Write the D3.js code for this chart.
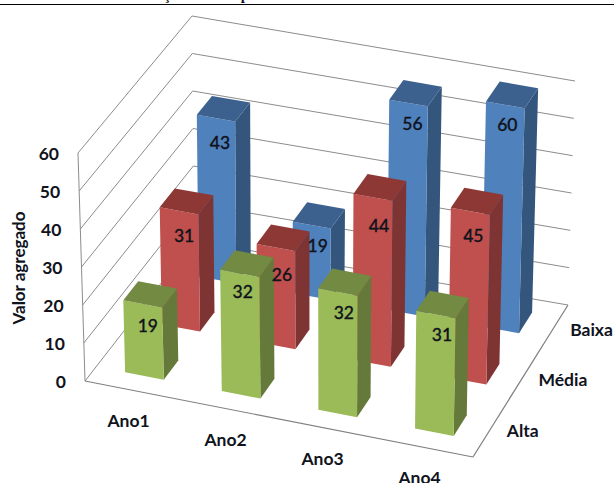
<!DOCTYPE html>
<html>
<head>
<meta charset="utf-8">
<script src="https://cdn.jsdelivr.net/npm/d3@7/dist/d3.min.js"></script>
<style>
html, body { margin: 0; padding: 0; background: #fff; }
svg { display: block; }
text { font-family: Lato, sans-serif; fill: #10131c; }
</style>
</head>
<body>
<svg id="chart" width="614" height="483"></svg>
<script>
// Chart data
const categories = ["Ano1", "Ano2", "Ano3", "Ano4"];
const seriesNames = ["Alta", "Média", "Baixa"];
const alta = [19, 32, 32, 31];
const media = [31, 26, 44, 45];
const baixa = [43, 19, 56, 60];
const yTicks = [0, 10, 20, 30, 40, 50, 60];
const faceColors = {
  Alta: { front: "#9bbb59", side: "#657a3a", top: "#728a42" },
  "Média": { front: "#c0504d", side: "#7d3432", top: "#8e3836" },
  Baixa: { front: "#4f81bd", side: "#34557c", top: "#3c618e" }
};
// Hand placement of the value labels relative to each bar top
const labelNudge = {
  Alta: [[0, 4], [-2, 0], [1, 3], [1, 2]],
  "Média": [[0, 7], [1, 9], [1, 10], [-2, 6]],
  Baixa: [[-1, 6], [1, 2], [-1, 3], [-3, 2]]
};

const svg = d3.select("#chart");

// Scales in normalised box coordinates
const xBand = d3.scaleBand().domain(categories).range([0, 1]).paddingInner(0.6).paddingOuter(0.3);
const zBand = d3.scaleBand().domain(seriesNames).range([0, 1.02]).paddingInner(0.6).paddingOuter(0.3);
const zMid = d3.scaleBand().domain(seriesNames).range([0, 1]).paddingInner(0.6).paddingOuter(0.3);
const yScale = d3.scaleLinear().domain([0, 60]).range([0, 1]);

// Corners of the plot box on screen
const box = {
  floor: { fl: [85, 381], fr: [473, 457], bl: [194, 241], br: [568, 305] },
  ceil:  { fl: [78, 153], fr: [477, 229], bl: [192, 16],  br: [575, 81] }
};
const mix = (a, b, t) => [a[0] + (b[0] - a[0]) * t, a[1] + (b[1] - a[1]) * t];
const plane = (p, u, v) => mix(mix(p.fl, p.fr, u), mix(p.bl, p.br, u), v);
const project = (u, v, value) => mix(plane(box.floor, u, v), plane(box.ceil, u, v), yScale(value));

const poly = d3.line();
const strokeSeg = (g, a, b, color, w) => g.append("path")
  .attr("d", poly([a, b])).attr("fill", "none").attr("stroke", color).attr("stroke-width", w);

// Rule along the top edge of the page, with the descenders of the heading above it
const page = svg.append("g");
strokeSeg(page, [0, 4.5], [614, 4.5], "#000", 1.2);
page.append("text").attr("x", 167).attr("y", 0)
  .style("font-family", "Liberation Serif").attr("font-weight", 700).attr("font-size", 15).attr("text-anchor", "middle").text("ç");
page.append("text").attr("x", 245).attr("y", 0)
  .style("font-family", "Liberation Serif").attr("font-weight", 700).attr("font-size", 15).attr("text-anchor", "middle").text("p");

// Walls and floor
const grid = svg.append("g");
yTicks.forEach(t => {
  strokeSeg(grid, project(0, 0, t), project(0, 1, t), "#8c8c8c", 1);
  strokeSeg(grid, project(0, 1, t), project(1, 1, t), "#8c8c8c", 1);
});
strokeSeg(grid, project(0, 0, 0), project(0, 0, 60), "#8c8c8c", 1);
strokeSeg(grid, project(0, 0, 0), project(1, 0, 0), "#808080", 1.2);
strokeSeg(grid, project(1, 0, 0), project(1, 1, 0), "#808080", 1.2);

// Bars, furthest row first
const rows = [
  { name: "Baixa", values: baixa },
  { name: "Média", values: media },
  { name: "Alta", values: alta }
];
const bars = svg.append("g");
rows.forEach(row => {
  const c = faceColors[row.name];
  const z0 = zBand(row.name), z1 = z0 + zBand.bandwidth();
  row.values.forEach((val, i) => {
    const x0 = xBand(categories[i]), x1 = x0 + xBand.bandwidth();
    const g = bars.append("g");
    g.append("path").attr("fill", c.side).attr("d", poly([
      project(x1, z0, 0), project(x1, z1, 0), project(x1, z1, val), project(x1, z0, val)]) + "Z");
    g.append("path").attr("fill", c.front).attr("d", poly([
      project(x0, z0, 0), project(x1, z0, 0), project(x1, z0, val), project(x0, z0, val)]) + "Z");
    g.append("path").attr("fill", c.top).attr("d", poly([
      project(x0, z0, val), project(x1, z0, val), project(x1, z1, val), project(x0, z1, val)]) + "Z");
  });
});

// Value labels sit on top of every bar
const labels = svg.append("g");
rows.forEach(row => {
  const z0 = zBand(row.name);
  row.values.forEach((val, i) => {
    const p = project(xBand(categories[i]) + xBand.bandwidth() / 2, z0, val);
    const [nx, ny] = labelNudge[row.name][i];
    labels.append("text").attr("x", p[0] + 5 + nx).attr("y", p[1] + 20 + ny)
      .attr("text-anchor", "middle").attr("dominant-baseline", "middle")
      .attr("font-size", 17.5).attr("font-weight", 500)
      .attr("stroke", "#10131c").attr("stroke-width", 0.3).text(val);
  });
});

// Axis labels
const axes = svg.append("g").attr("font-weight", 700).attr("font-size", 17.5);
yTicks.forEach(t => {
  const p = project(0, 0, t);
  axes.append("text").attr("x", p[0] - 19).attr("y", p[1] + 3)
    .attr("text-anchor", "end").attr("dominant-baseline", "middle").text(t);
});
categories.forEach(c => {
  const p = project(xBand(c) + xBand.bandwidth() / 2, 0, 0);
  axes.append("text").attr("x", p[0] - 5).attr("y", p[1] + 32)
    .attr("text-anchor", "middle").attr("dominant-baseline", "middle").text(c);
});
seriesNames.forEach(s => {
  const p = project(1, zMid(s) + zMid.bandwidth() / 2, 0);
  axes.append("text").attr("x", p[0] + 18).attr("y", p[1] + 1)
    .attr("dominant-baseline", "middle").text(s);
});
axes.append("text").attr("transform", "translate(21,268) rotate(-90)")
  .attr("text-anchor", "middle").attr("dominant-baseline", "middle")
  .attr("font-size", 17).text("Valor agregado");
</script>
</body>
</html>
